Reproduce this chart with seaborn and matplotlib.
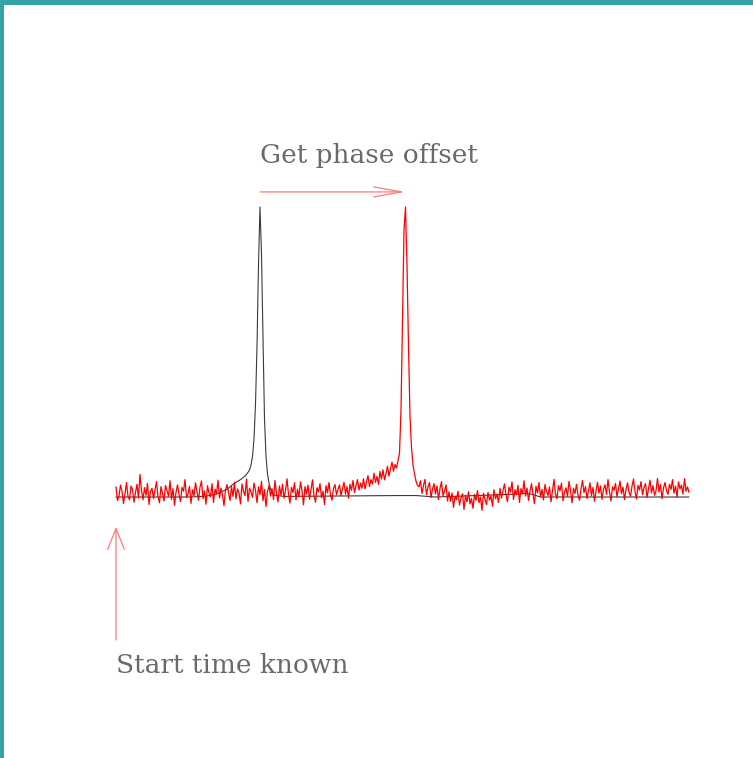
import numpy as np
import pandas as pd
import matplotlib
matplotlib.use("Agg")
import matplotlib.pyplot as plt
from matplotlib.patches import Rectangle
import seaborn as sns

# Standard (template) pulse profile: phase bin -> relative intensity
template_bins = [0, 50, 60, 67, 70, 74, 78, 83, 86, 88, 89, 90, 91, 92, 93, 94, 95, 96,
                 97, 98, 99, 100, 101, 102, 103, 104, 106, 112, 187, 200, 213,
                 267, 272, 277, 283, 382]
template_vals = [0.0, 0.0, 0.3, 1.0, 1.8, 2.6, 4.4, 6.0, 7.2, 8.5, 9.3, 11.0, 14.0, 20.0,
                 32.0, 52.0, 80.0, 100.0, 84.0, 55.0, 27.0, 14.0, 8.0, 4.8, 2.8, 1.4,
                 0.6, 0.2, 0.5, 0.5, 0.0, 1.0, 1.2, 1.0, 0.0, 0.0]

# Observed (noisy) pulse profile, one value per phase bin, in consecutive stretches
off_pulse_early = [
    3.5, -1.2, 0.4, 4.1, 2.0, -2.3, 1.1, 5.0, 0.2, -0.9, 3.8, 2.6, -1.8, 1.5, 4.4, -0.4,
    7.8, 2.3, -1.0, 3.2, 0.6, 4.7, -2.6, 1.9, 3.0, -0.5, 2.4, 5.3, 0.1, -2.0, 3.6, 1.2,
    -1.4, 4.0, 2.2, 0.3, 5.6, -0.8, 2.9, -2.9, 1.6, 4.2, 0.9, -1.6, 3.3, 2.0, 6.0, -0.2,
    1.0, 3.7, -2.2, 2.5, 0.4, 4.9, 1.8, -1.1, 3.4, 5.5, -0.6, 2.1, -2.5, 3.9, 1.3, 0.0,
    4.6, -1.9, 2.7, 1.1, 5.8, -0.3, 3.1, 0.7, -3.0, 2.4, 4.3, 1.5, -1.2, 3.6, 0.2, 5.1,
    -0.7, 2.8, 1.4, -2.4, 4.5, 2.0, 0.5, 6.2, -1.5, 3.0, 1.7, -0.1, 4.8, 2.3, -2.0, 3.5,
    0.8, 5.4, -1.3, 2.6, -3.3, 1.9, 4.0, 0.3, 2.9, -0.9, 5.7, 1.2, -1.7, 3.8, 0.6, 4.4,
    -0.4, 2.2, 6.3, 0.9, -2.1, 3.3, 1.5, 4.9, -1.0, 2.7, 0.0, 5.2, 2.1, -2.7, 3.6, 1.0,
    4.1, -0.8, 2.5, 5.9, 0.4, -1.8, 3.2, 1.8, 4.6, -0.3, 2.0, -2.6, 3.9, 1.4, 5.0, 0.7,
    -1.1, 3.0, 4.3, 0.8, 2.6,
]
leading_shoulder = [
    4.2, 0.5, 2.9, 5.1, 1.0, 3.6, -0.4, 4.4, 2.3, 5.7, 1.5, 3.9, 6.0, 2.4, 4.8, 3.0,
    6.3, 2.8, 5.2, 7.4, 3.6, 6.0, 4.5, 8.2, 5.0, 7.1, 4.4, 8.8, 6.2, 9.4, 5.9, 8.0,
    10.6, 7.2, 9.8, 12.0, 8.9, 11.2,
]
main_pulse = [10.0, 12.5, 15.0, 30.0, 62.0, 92.0, 100.0, 80.0, 52.0, 28.0, 17.0, 11.0,
              8.0, 5.5, 4.0, 3.5]
trailing_tail = [5.6, 1.2, 4.0, 6.1, 0.8, 3.4, 5.0, -0.2, 2.7, 4.6, 1.0, 3.8, -0.9, 2.9,
                 5.3, 0.4, 2.0, 4.2, -1.4, 1.8]
post_pulse_dip = [
    -1.5, 1.4, -3.6, 0.2, -0.9, 2.0, -2.8, -0.3, 1.1, -4.3, 0.6, -1.7, 1.8, -2.4, -0.5,
    -3.9, 0.9, -1.2, 2.2, -2.0, 0.0, -4.6, 1.3, -0.8, -2.6, 1.6, -1.1, 0.4, -3.2, 2.5,
    -0.6, 1.0, -1.9,
]
off_pulse_late = [
    3.0, -0.4, 2.2, 4.5, 0.6, -1.6, 3.4, 1.7, 5.2, -0.9, 2.5, 0.8, 4.0, -1.9, 2.9, 1.1,
    5.6, 0.3, 3.1, -1.2, 2.0, 4.6, 0.9, -2.3, 3.7, 1.4, 5.0, 0.0, 2.6, -1.0, 4.3, 1.9,
    0.5, 3.5, -1.7, 2.3, 6.1, 1.0, -0.6, 3.9, 2.1, 4.8, -1.3, 1.6, 3.2, 0.2, 5.4, 2.4,
    -2.0, 3.0, 1.2, 4.4, 0.7, -1.1, 2.8, 5.7, 1.5, 3.6, -0.5, 2.2, 4.9, 0.4, 3.3, -1.5,
    2.0, 5.1, 1.3, 3.8, -0.8, 2.6, 4.2, 0.9, 6.0, 1.8, -1.4, 3.5, 2.3, 4.7, 0.1, 2.9,
    5.5, 1.1, 3.4, -0.9, 2.5, 4.9, 1.6, 0.3, 3.7, 6.2, 1.9, -0.7, 4.0, 2.4, 5.3, 0.8,
    3.2, 4.6, -0.2, 2.7, 5.8, 1.4, 3.9, 0.6, 2.1, 6.4, 1.7, 4.3, -0.6, 3.1, 5.0, 2.2,
    0.9, 4.4, 2.6, 6.0, 1.3, 3.8, -0.1, 5.2, 2.8, 4.1, 1.0, 6.3, 2.0, 3.5, 1.6,
]
observed_vals = (off_pulse_early + leading_shoulder + main_pulse + trailing_tail
                 + post_pulse_dip + off_pulse_late)
observed_bins = list(range(len(observed_vals)))

# Annotation anchors (phase bin, intensity)
start_bin = 0
template_peak_bin = 96
observed_peak_bin = 192.7
arrow_level = 105.2
label_offset = "Get phase offset"
label_start = "Start time known"

sns.set_theme(style="white")
plt.rcParams["font.family"] = ["DejaVu Serif", "Liberation Serif"]

fig = plt.figure(figsize=(7.53, 7.58), dpi=100)
ax = fig.add_axes([0, 0, 1, 1])

template_df = pd.DataFrame({"bin": template_bins, "flux": template_vals})
observed_df = pd.DataFrame({"bin": observed_bins, "flux": observed_vals})

sns.lineplot(data=template_df, x="bin", y="flux", ax=ax, color="#3a3a3a",
             linewidth=0.8, estimator=None, sort=False)
sns.lineplot(data=observed_df, x="bin", y="flux", ax=ax, color="#ff0000",
             linewidth=0.9, estimator=None, sort=False)

ax.set_xlim(-77.33, 424.67)
ax.set_ylim(-90.0, 171.38)
ax.set_axis_off()

arrow_col = "#ff7a7a"
ax.annotate("", xy=(observed_peak_bin, arrow_level), xytext=(template_peak_bin, arrow_level),
            arrowprops=dict(arrowstyle="->,head_length=2.0,head_width=0.36",
                            mutation_scale=10, color=arrow_col, lw=0.9,
                            shrinkA=0, shrinkB=0))
ax.annotate("", xy=(start_bin, -10.3), xytext=(start_bin, -49.3),
            arrowprops=dict(arrowstyle="->,head_length=1.5,head_width=0.6",
                            mutation_scale=10, color=arrow_col, lw=0.9,
                            shrinkA=0, shrinkB=0))

text_col = "#6a6a6a"
ax.text(template_peak_bin, 115.2, label_offset, fontsize=19, color=text_col,
        ha="left", va="baseline")
ax.text(start_bin, -60.7, label_start, fontsize=19, color=text_col,
        ha="left", va="baseline")

# Teal frame along the top and left edges
teal = "#33a3a5"
fig.patches.append(Rectangle((0, 1 - 5 / 758), 1, 5 / 758, transform=fig.transFigure,
                             facecolor=teal, edgecolor="none", zorder=10))
fig.patches.append(Rectangle((0, 0), 4 / 753, 1, transform=fig.transFigure,
                             facecolor=teal, edgecolor="none", zorder=10))

fig.savefig("out.png", dpi=100)
